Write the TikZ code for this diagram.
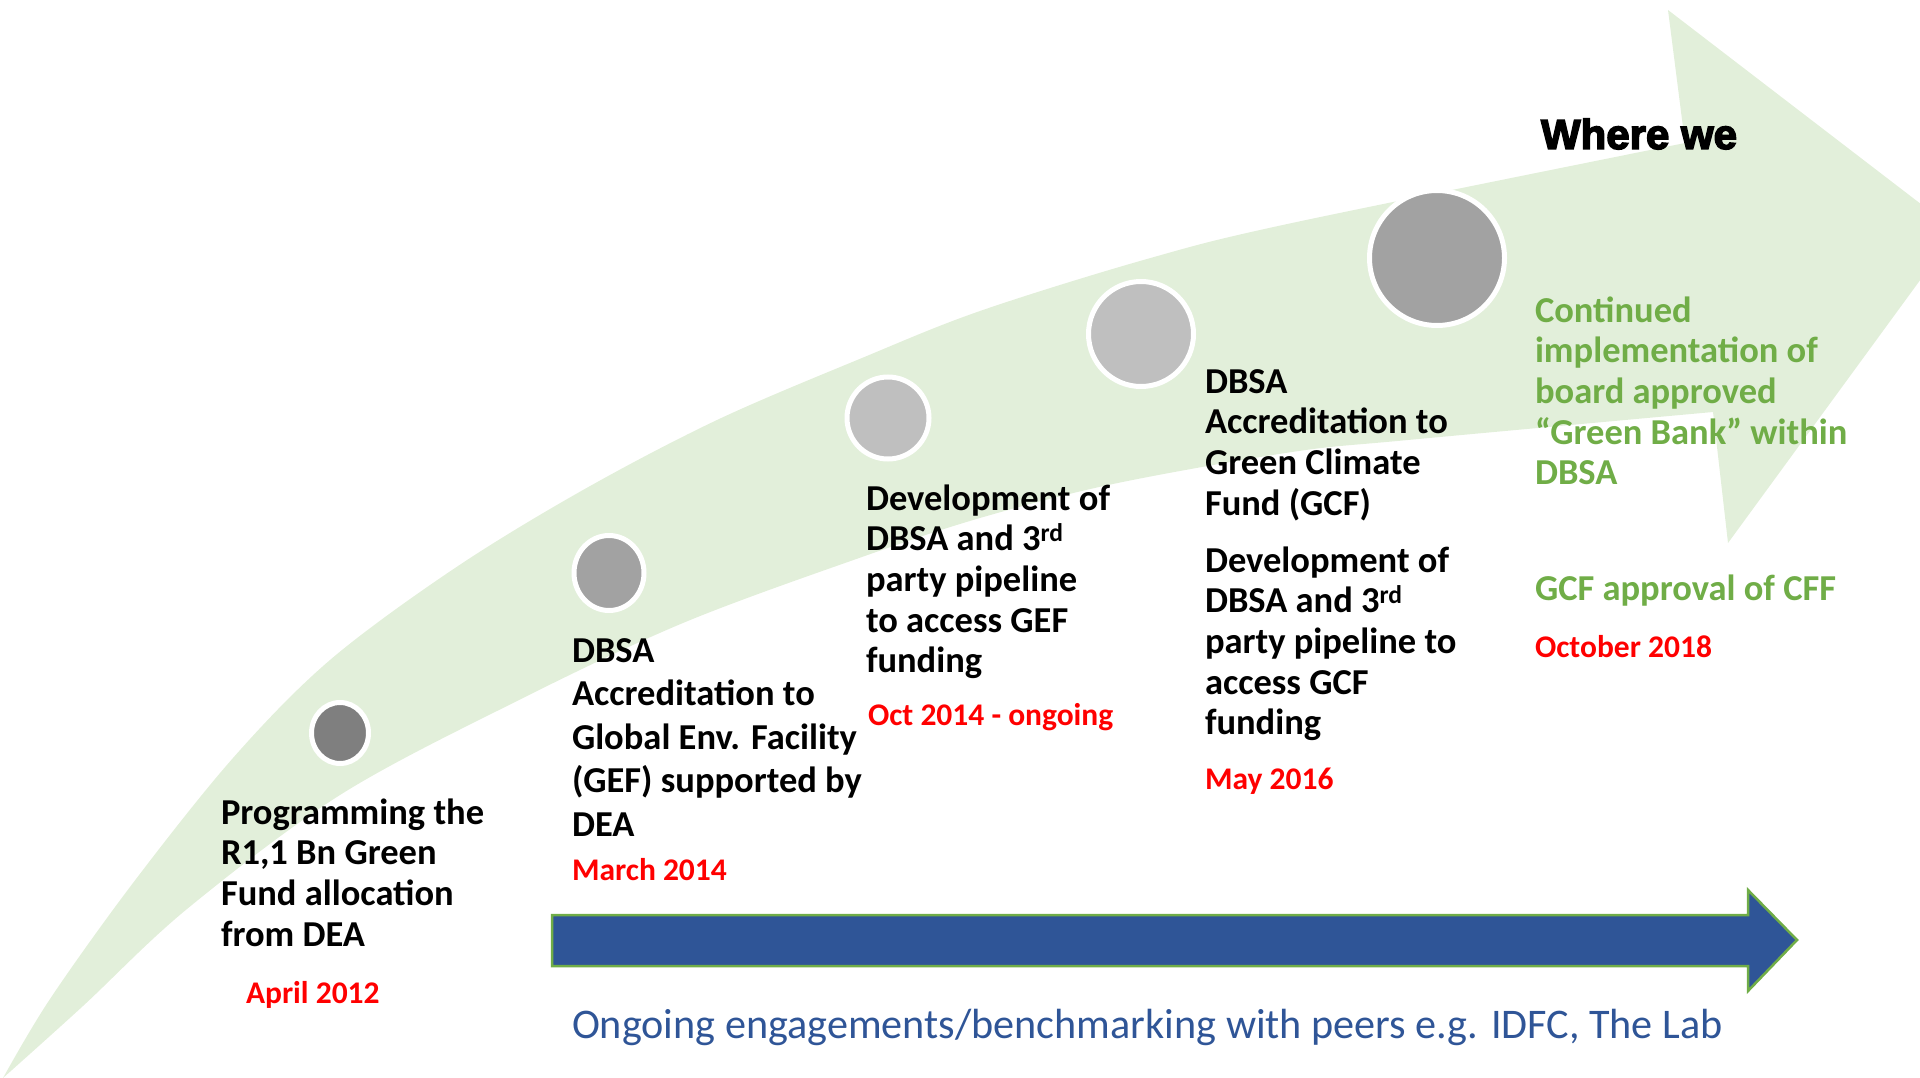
\documentclass[tikz,border=0pt]{standalone}
\usepackage{fontspec}
\setmainfont{Carlito}
\newfontfamily\heavyfont{Liberation Sans Bold}[FakeBold=3.5]
\usetikzlibrary{shapes.geometric}
\definecolor{bandgreen}{HTML}{E2EFDA}
\definecolor{leafgreen}{HTML}{70AD47}
\definecolor{datered}{HTML}{FF0000}
\definecolor{navy}{HTML}{2F5597}
\definecolor{dotdark}{HTML}{7F7F7F}
\definecolor{dotmid}{HTML}{A2A2A2}
\definecolor{dotlight}{HTML}{BFBFBF}
% rows of left-aligned text; the box baseline is that of the first row
\newcommand\stack[1]{\vtop{\halign{##\hfil\cr#1\crcr}}}
\begin{document}
\begin{tikzpicture}[x=1pt,y=-1pt,
  every node/.style={inner sep=0pt,outer sep=0pt},
  body/.style={anchor=base west,text=black,font=\fontsize{36.5}{40.7}\selectfont\bfseries},
  bodywide/.style={body,font=\fontsize{36.5}{43.5}\selectfont\bfseries},
  goal/.style={body,text=leafgreen},
  when/.style={anchor=base west,text=datered,font=\fontsize{31.5}{36}\selectfont\bfseries},
  dot/.style={ellipse,draw=white,line width=5pt},
]
\useasboundingbox (0,0) rectangle (1920,1078);
\begin{scope}
\clip (0,0) rectangle (1920,1078);
% sweeping green band ending in a broad arrow head
\fill[bandgreen]
  plot[smooth,tension=0.55] coordinates {(3,1078) (50,999) (133,883) (233,758) (330,660) (455,568) (583,490) (717,420) (862,358) (980,311) (1147,259) (1292,223) (1685,143)}
  -- (1668,10) -- (1956,231) -- (1728,543) --
  plot[smooth,tension=0.55] coordinates {(1713,412) (1408,440) (1292,452) (1113,484) (980,518) (862,557) (683,623) (515,702) (340,795) (187,909) (83,1006) (3,1078)}
  -- cycle;
\end{scope}

% milestones along the band
\node[dot,fill=dotdark,minimum width=57,minimum height=61] (m1) at (340,733) {};
\node[dot,fill=dotmid,minimum width=70,minimum height=75] (m2) at (609,573) {};
\node[dot,fill=dotlight,minimum width=82,minimum height=82] (m3) at (888,418) {};
\node[dot,fill=dotlight,minimum width=105,minimum height=105] (m4) at (1141,334) {};
\node[dot,fill=dotmid,minimum width=135,minimum height=135] (m5) at (1437,258) {};

\node[anchor=base west,font=\heavyfont\fontsize{42}{48}\selectfont] (where) at (1541,149) {Where we};

% milestone descriptions
\node[body] (t1) at (221,824) {\stack{Programming the\cr R1,1 Bn Green\cr Fund allocation\cr from DEA}};
\node[when] (d1) at (246,1003) {April 2012};

\node[bodywide] (t2) at (572,662) {\stack{DBSA\cr Accreditation to\cr Global Env. Facility\cr (GEF) supported by\cr DEA}};
\node[when] (d2) at (572,880) {March 2014};

\node[body] (t3) at (866,510) {\stack{Development of\cr DBSA and 3\textsuperscript{rd}\cr party pipeline\cr to access GEF\cr funding}};
\node[when] (d3) at (868,725) {Oct 2014 - ongoing};

\node[body] (t4a) at (1205,393) {\stack{DBSA\cr Accreditation to\cr Green Climate\cr Fund (GCF)}};
\node[body] (t4b) at (1205,572) {\stack{Development of\cr DBSA and 3\textsuperscript{rd}\cr party pipeline to\cr access GCF\cr funding}};
\node[when] (d4) at (1205,789) {May 2016};

\node[goal] (t5) at (1535,322) {\stack{Continued\cr implementation of\cr board approved\cr “Green Bank” within\cr DBSA}};
\node[goal] (t6) at (1535,600) {GCF approval of CFF};
\node[when] (d6) at (1535,657) {October 2018};

% ongoing engagement arrow
\fill[navy,draw=leafgreen,line width=2.5pt,line join=miter]
  (552,915) -- (1748,915) -- (1748,890) -- (1797,940) -- (1748,991) -- (1748,966) -- (552,966) -- cycle;
\node[anchor=base west,text=navy,font=\fontsize{42.2}{48}\selectfont] (peers) at (572,1038)
  {Ongoing engagements/benchmarking with peers e.g. IDFC, The Lab};
\end{tikzpicture}
\end{document}
